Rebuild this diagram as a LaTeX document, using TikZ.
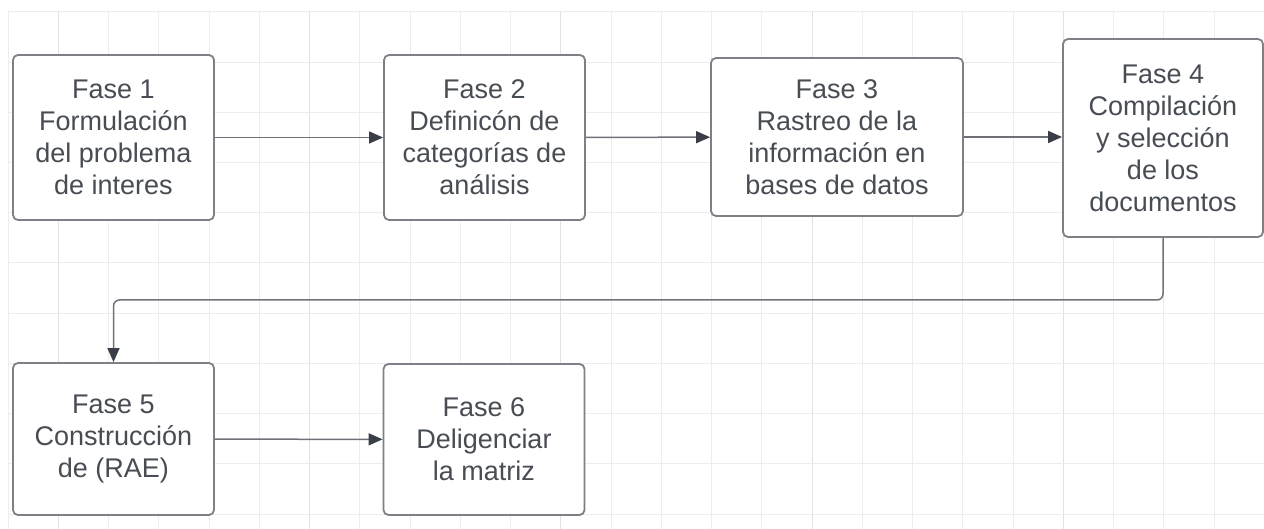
\documentclass[tikz,border=0pt]{standalone}
\usepackage{fontspec}
\setmainfont{Liberation Sans}
\usetikzlibrary{arrows.meta}

\definecolor{gridgray}{RGB}{237,237,239}
\definecolor{gridmajor}{RGB}{226,226,228}
\definecolor{boxgray}{RGB}{125,129,135}
\definecolor{textgray}{RGB}{72,77,84}
\definecolor{linegray}{RGB}{110,114,120}
\definecolor{tipdark}{RGB}{58,62,70}

\begin{document}
\begin{tikzpicture}[x=1pt,y=-1pt,
  fase/.style={draw=boxgray, line width=1.8pt, rounded corners=5pt, fill=white,
    text=textgray, align=center, inner sep=0pt,
    font=\fontsize{27}{32}\selectfont},
  flecha/.style={draw=linegray, line width=1.5pt,
    -{Triangle[length=14pt,width=12pt,color=tipdark]}},
  rejilla/.style={draw=gridgray, line width=1pt}]
  \useasboundingbox (0,0) rectangle (1264,529);

  %Grid
  \foreach \i in {0,...,24} {
    \draw[rejilla] ({8+50.25*\i},12) -- ({8+50.25*\i},529);
  }
  \foreach \i in {1,6,11,16,21} {
    \draw[rejilla, draw=gridmajor] ({8+50.25*\i},12) -- ({8+50.25*\i},529);
  }
  \foreach \j in {0,...,10} {
    \draw[rejilla] (8,{12+50.2*\j}) -- (1264,{12+50.2*\j});
  }

  %Phases
  \node[fase, minimum width=201pt, minimum height=165pt] (f1) at (113.5,137.5)
    {Fase 1\\Formulación\\del problema\\de interes};
  \node[fase, minimum width=201pt, minimum height=165pt] (f2) at (484.5,137.5)
    {Fase 2\\Definicón de\\categorías de\\análisis};
  \node[fase, minimum width=252pt, minimum height=158pt] (f3) at (837,137)
    {Fase 3\\Rastreo de la\\información en\\bases de datos};
  \node[fase, minimum width=200pt, minimum height=198pt] (f4) at (1163,138)
    {Fase 4\\Compilación\\y selección\\de los\\documentos};
  \node[fase, minimum width=201pt, minimum height=152pt] (f5) at (113.5,439)
    {Fase 5\\Construcción\\de (RAE)};
  \node[fase, minimum width=201pt, minimum height=151pt] (f6) at (484,439.5)
    {Fase 6\\Deligenciar\\la matriz};

  %Connectors
  \coordinate (codo) at (113.5,300);
  \draw[flecha] (f1) -- (f2);
  \draw[flecha] (f2) -- (f3);
  \draw[flecha] (f3.east) -- (f4.west |- f3.east);
  \draw[flecha, rounded corners=6pt] (f4.south) |- (codo) -- (f5.north);
  \draw[flecha] (f5) -- (f6);
\end{tikzpicture}
\end{document}
